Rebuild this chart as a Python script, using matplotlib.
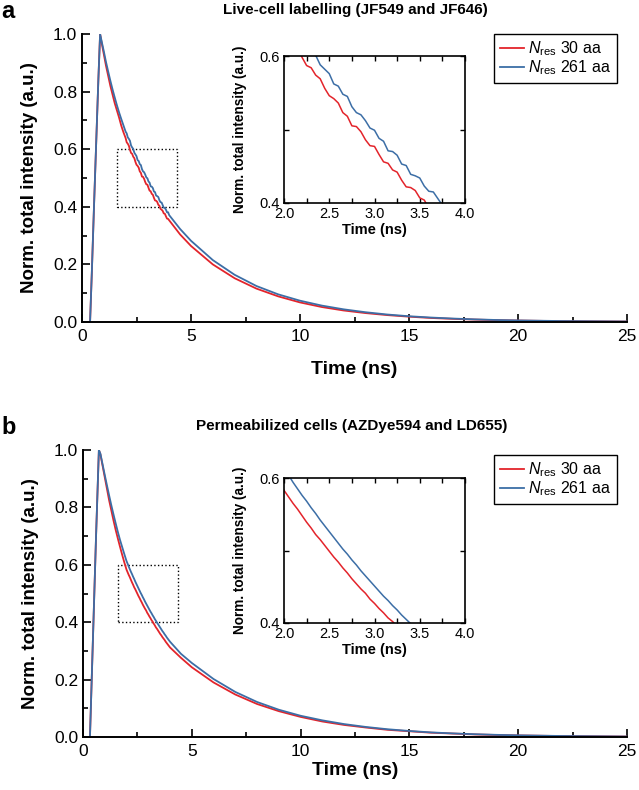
import matplotlib
matplotlib.use("Agg")
import matplotlib.pyplot as plt
from matplotlib.patches import Rectangle
from matplotlib.ticker import MultipleLocator

plt.rcParams['font.family'] = ['Liberation Sans', 'DejaVu Sans']
plt.rcParams['mathtext.fontset'] = 'custom'
plt.rcParams['mathtext.rm'] = 'Liberation Sans'
plt.rcParams['mathtext.it'] = 'Liberation Sans:italic'
plt.rcParams['mathtext.bf'] = 'Liberation Sans:bold'

# ---------------- data ----------------
dense_t = [2.0, 2.05, 2.1, 2.15, 2.2, 2.25, 2.3, 2.35, 2.4, 2.45, 2.5, 2.55, 2.6, 2.65, 2.7,
           2.75, 2.8, 2.85, 2.9, 2.95, 3.0, 3.05, 3.1, 3.15, 3.2, 3.25, 3.3, 3.35, 3.4, 3.45,
           3.5, 3.55, 3.6, 3.65, 3.7, 3.75, 3.8, 3.85, 3.9, 3.95, 4.0]
tail_t = [4.5, 5, 6, 7, 8, 9, 10, 11, 12, 13, 14, 15, 16, 17, 18, 19, 20, 22, 25]

time_a = [0, 0.37, 0.45, 0.55, 0.65, 0.75, 0.83, 0.9, 1.0, 1.1, 1.2, 1.3, 1.4, 1.5, 1.6, 1.7,
          1.8, 1.9] + dense_t + tail_t
red_a = ([0, 0, 0.17, 0.40, 0.62, 0.84, 1.0, 0.97, 0.93, 0.89, 0.855, 0.82, 0.79, 0.76, 0.735,
          0.71, 0.682, 0.659]
         + [0.639, 0.624, 0.619, 0.612, 0.598, 0.587, 0.584, 0.574, 0.569, 0.556, 0.546, 0.542,
            0.536, 0.523, 0.518, 0.505, 0.504, 0.497, 0.486, 0.478, 0.477, 0.466, 0.456, 0.454,
            0.445, 0.442, 0.431, 0.422, 0.421, 0.417, 0.407, 0.404, 0.393, 0.390, 0.386, 0.377,
            0.376, 0.367, 0.359, 0.358, 0.353]
         + [0.304, 0.264, 0.200, 0.152, 0.116, 0.089, 0.068, 0.052, 0.040, 0.031, 0.024, 0.0185,
            0.014, 0.011, 0.0085, 0.0065, 0.005, 0.003, 0.0015])
blue_a = ([0, 0, 0.17, 0.40, 0.62, 0.84, 1.0, 0.975, 0.94, 0.903, 0.87, 0.838, 0.808, 0.78,
           0.753, 0.728, 0.705, 0.683]
          + [0.661, 0.655, 0.641, 0.636, 0.629, 0.613, 0.606, 0.601, 0.588, 0.582, 0.576, 0.562,
             0.559, 0.548, 0.545, 0.531, 0.523, 0.520, 0.512, 0.502, 0.499, 0.488, 0.484, 0.471,
             0.470, 0.465, 0.453, 0.451, 0.439, 0.437, 0.434, 0.423, 0.416, 0.415, 0.406, 0.397,
             0.396, 0.390, 0.381, 0.381, 0.371]
          + [0.323, 0.282, 0.215, 0.164, 0.125, 0.096, 0.074, 0.057, 0.044, 0.034, 0.026, 0.020,
             0.0155, 0.012, 0.0092, 0.007, 0.0055, 0.0033, 0.0017])

time_b = [0, 0.32, 0.4, 0.5, 0.6, 0.73, 0.8, 0.9, 1.0, 1.1, 1.2, 1.3, 1.4, 1.5, 1.6, 1.7,
          1.8, 1.9] + dense_t + tail_t
red_b = ([0, 0, 0.20, 0.45, 0.70, 1.0, 0.985, 0.945, 0.905, 0.865, 0.825, 0.79, 0.755, 0.722,
          0.692, 0.663, 0.635, 0.608]
         + [0.583, 0.574, 0.565, 0.557, 0.548, 0.539, 0.531, 0.522, 0.515, 0.507, 0.499, 0.491,
            0.484, 0.476, 0.469, 0.461, 0.454, 0.447, 0.441, 0.433, 0.427, 0.420, 0.414, 0.407,
            0.402, 0.395, 0.389, 0.382, 0.377, 0.371, 0.365, 0.359, 0.354, 0.348, 0.343, 0.338,
            0.332, 0.327, 0.322, 0.317, 0.312]
         + [0.276, 0.243, 0.190, 0.148, 0.115, 0.090, 0.070, 0.054, 0.042, 0.033, 0.025, 0.020,
            0.015, 0.012, 0.009, 0.007, 0.0055, 0.0033, 0.0015])
blue_b = ([0, 0, 0.20, 0.45, 0.70, 1.0, 0.987, 0.95, 0.913, 0.877, 0.842, 0.808, 0.776, 0.745,
           0.715, 0.687, 0.662, 0.637]
          + [0.613, 0.604, 0.594, 0.585, 0.576, 0.568, 0.559, 0.551, 0.542, 0.534, 0.526, 0.518,
             0.510, 0.502, 0.495, 0.487, 0.480, 0.472, 0.465, 0.458, 0.451, 0.444, 0.437, 0.431,
             0.424, 0.418, 0.411, 0.405, 0.399, 0.393, 0.387, 0.381, 0.375, 0.369, 0.364, 0.358,
             0.353, 0.347, 0.342, 0.337, 0.332]
          + [0.290, 0.258, 0.202, 0.157, 0.122, 0.095, 0.074, 0.058, 0.045, 0.035, 0.027, 0.021,
             0.016, 0.0125, 0.0097, 0.0075, 0.0058, 0.0035, 0.0016])

labels = [r'$\mathit{N}_{\mathrm{res}}$ 30 aa', r'$\mathit{N}_{\mathrm{res}}$ 261 aa']
titles = ['Live-cell labelling (JF549 and JF646)', 'Permeabilized cells (AZDye594 and LD655)']
panel_letters = ['a', 'b']

RED = '#E3242B'
BLUE = '#3C6EA6'

W, H = 639, 790
fig = plt.figure(figsize=(W / 100, H / 100), dpi=100)


def fx(px):
    return px / W


def fy(py):
    return 1 - py / H


panels = [
    dict(t=time_a, r=red_a, b=blue_a, main=(82, 627, 34, 322), inset=(284, 465, 56, 203),
         leg=(494, 34), title=(355, 10), letter_y=11, xpad=12),
    dict(t=time_b, r=red_b, b=blue_b, main=(83, 627, 450, 737), inset=(284, 465, 478, 623),
         leg=(494, 455), title=(352, 426), letter_y=428, xpad=2),
]

for i, p in enumerate(panels):
    l, r, tp, bt = p['main']
    ax = fig.add_axes([fx(l), fy(bt), fx(r - l), (bt - tp) / H])
    ax.plot(p['t'], p['r'], color=RED, lw=1.3, label=labels[0])
    ax.plot(p['t'], p['b'], color=BLUE, lw=1.3, label=labels[1])
    ax.set_xlim(0, 25)
    ax.set_ylim(0, 1.0)
    ax.spines['top'].set_visible(False)
    ax.spines['right'].set_visible(False)
    for s in ['left', 'bottom']:
        ax.spines[s].set_linewidth(1.4)
    ax.xaxis.set_minor_locator(MultipleLocator(2.5))
    ax.yaxis.set_minor_locator(MultipleLocator(0.1))
    ax.tick_params(which='both', direction='in', width=1.2, labelsize=12.5)
    ax.tick_params(which='major', length=6)
    ax.tick_params(which='minor', length=3.5)
    ax.tick_params(axis='x', pad=5)
    ax.set_xticks([0, 5, 10, 15, 20, 25])
    ax.set_xticklabels(['0', '5', '10', '15', '20', '25'])
    ax.set_yticks([0, 0.2, 0.4, 0.6, 0.8, 1.0])
    ax.set_yticklabels(['0.0', '0.2', '0.4', '0.6', '0.8', '1.0'])
    ax.set_xlabel('Time (ns)', fontsize=14, fontweight='bold', labelpad=p['xpad'])
    ax.set_ylabel('Norm. total intensity (a.u.)', fontsize=13.5, fontweight='bold', labelpad=11)
    ax.add_patch(Rectangle((1.6, 0.4), 2.75, 0.2, fill=False, ls=':', lw=1.0, color='black'))

    # inset
    il, ir, itp, ibt = p['inset']
    axi = fig.add_axes([fx(il), fy(ibt), fx(ir - il), (ibt - itp) / H])
    axi.plot(p['t'], p['r'], color=RED, lw=1.1)
    axi.plot(p['t'], p['b'], color=BLUE, lw=1.1)
    axi.set_xlim(2.0, 4.0)
    axi.set_ylim(0.4, 0.6)
    for s in axi.spines.values():
        s.set_linewidth(1.2)
    axi.xaxis.set_minor_locator(MultipleLocator(0.25))
    axi.set_yticks([0.4, 0.6])
    axi.set_yticklabels(['0.4', '0.6'])
    axi.yaxis.set_minor_locator(MultipleLocator(0.1))
    axi.set_xticks([2.0, 2.5, 3.0, 3.5, 4.0])
    axi.set_xticklabels(['2.0', '2.5', '3.0', '3.5', '4.0'])
    axi.tick_params(which='both', direction='in', top=True, right=True, width=1.0,
                    labelsize=10.5, pad=3)
    axi.tick_params(which='major', length=3.5)
    axi.tick_params(which='minor', length=3.5)
    axi.set_xlabel('Time (ns)', fontsize=10.5, fontweight='bold', labelpad=1)
    axi.set_ylabel('Norm. total intensity (a.u.)', fontsize=9.8, fontweight='bold', labelpad=9)

    # legend
    lx, ly = p['leg']
    fig.legend(handles=ax.get_lines(), loc='upper left', bbox_to_anchor=(fx(lx), fy(ly)),
               borderaxespad=0, fontsize=11.5, frameon=True, fancybox=False, edgecolor='black',
               framealpha=1, handlelength=1.5, handletextpad=0.3, borderpad=0.35,
               labelspacing=0.0)

    tx, ty = p['title']
    fig.text(fx(tx), fy(ty), titles[i], ha='center', va='center',
             fontsize=11, fontweight='bold')
    fig.text(fx(1), fy(p['letter_y']), panel_letters[i], ha='left', va='center',
             fontsize=17, fontweight='bold')

fig.savefig('out.png', dpi=100)
